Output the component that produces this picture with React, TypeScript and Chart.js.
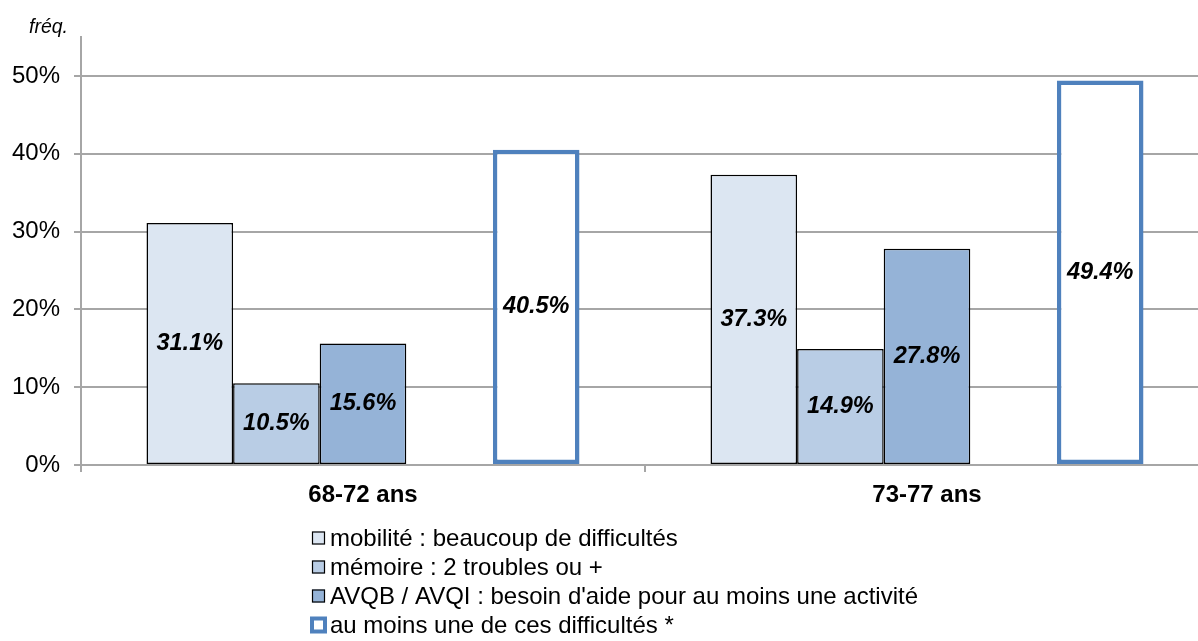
import React, { useEffect, useRef } from "react";
import { Chart, registerables } from "chart.js";

Chart.register(...registerables);

const CATEGORIES = ["68-72 ans", "73-77 ans"];
const MOBILITE = [31.1, 37.3];
const MEMOIRE = [10.5, 14.9];
const AVQ = [15.6, 27.8];
const AU_MOINS = [40.5, 49.4];
const Y_TICKS = [0, 10, 20, 30, 40, 50];
const LABELS = [
  "mobilité : beaucoup de difficultés",
  "mémoire : 2 troubles ou +",
  "AVQB / AVQI : besoin d'aide pour au moins une activité",
  "au moins une de ces difficultés *",
];
const Y_TITLE = "fréq.";

const FONT = '"Liberation Sans", Arial, sans-serif';
const GRID = "#a6a6a6";
const BLUE = "#4F81BD";

const W = 1230;
const H = 641;

export default function App() {
  const ref = useRef<HTMLCanvasElement>(null);

  useEffect(() => {
    const canvas = ref.current!;
    const labelPlugin = {
      id: "extras",
      afterDatasetsDraw(chart: any) {
        const ctx = chart.ctx;
        ctx.save();
        ctx.fillStyle = "#000";
        ctx.textAlign = "center";
        ctx.textBaseline = "middle";
        ctx.font = `italic bold 23.5px ${FONT}`;
        chart.data.datasets.forEach((ds: any, i: number) => {
          if (ds.isSpacer) return;
          const meta = chart.getDatasetMeta(i);
          meta.data.forEach((bar: any, j: number) => {
            const v = ds.data[j];
            if (v == null) return;
            ctx.fillText(v.toFixed(1) + "%", bar.x, (bar.y + bar.base) / 2);
          });
        });
        ctx.restore();
      },
      afterDraw(chart: any) {
        const ctx = chart.ctx;
        ctx.save();
        ctx.fillStyle = "#000";
        ctx.font = `italic 19.5px ${FONT}`;
        ctx.textAlign = "left";
        ctx.textBaseline = "middle";
        ctx.fillText(Y_TITLE, 29, 28);
        const items = chart.data.datasets.filter((d: any) => !d.isSpacer);
        const x0 = 312;
        const y0 = 538;
        const step = 29;
        ctx.font = `24px ${FONT}`;
        items.forEach((ds: any, k: number) => {
          const cy = y0 + k * step;
          const s = 13;
          if (ds.legendThick) {
            ctx.fillStyle = BLUE;
            ctx.fillRect(x0 - 2, cy - s / 2 - 2, s + 4, s + 4);
            ctx.fillStyle = "#fff";
            ctx.fillRect(x0 + 2, cy - s / 2 + 2, s - 4, s - 4);
          } else {
            ctx.fillStyle = ds.backgroundColor;
            ctx.fillRect(x0, cy - s / 2, s, s);
            ctx.strokeStyle = "#000";
            ctx.lineWidth = 1.2;
            ctx.strokeRect(x0 + 0.5, cy - s / 2 + 0.5, s - 1, s - 1);
          }
          ctx.fillStyle = "#000";
          ctx.textAlign = "left";
          ctx.textBaseline = "middle";
          ctx.fillText(ds.label, x0 + s + 5, cy + 1);
        });
        ctx.restore();
      },
    };

    const chart = new Chart(canvas, {
      type: "bar",
      data: {
        labels: CATEGORIES,
        datasets: [
          { label: LABELS[0], data: MOBILITE, backgroundColor: "#DCE6F2", borderColor: "#000", borderWidth: 1.5 },
          { label: LABELS[1], data: MEMOIRE, backgroundColor: "#B9CDE5", borderColor: "#000", borderWidth: 1.5 },
          { label: LABELS[2], data: AVQ, backgroundColor: "#95B3D7", borderColor: "#000", borderWidth: 1.5 },
          { label: "", data: [null, null], isSpacer: true, backgroundColor: "transparent" } as any,
          { label: LABELS[3], data: AU_MOINS, backgroundColor: "#ffffff", borderColor: BLUE, borderWidth: 4.5, legendThick: true } as any,
        ],
      },
      options: {
        responsive: false,
        animation: false,
        devicePixelRatio: 1,
        layout: { padding: { left: 0, top: 37, right: W - 1209, bottom: 0 } },
        datasets: {
          bar: { categoryPercentage: 433 / 564, barPercentage: 1, borderSkipped: false } as any,
        },
        plugins: {
          legend: { display: false },
          tooltip: { enabled: false },
          title: { display: false },
        },
        scales: {
          x: {
            grid: { offset: true, drawOnChartArea: false, drawTicks: true, tickLength: 7, color: GRID, lineWidth: 2 },
            border: { display: true, color: GRID, width: 2 },
            ticks: { color: "#000", font: { family: FONT, size: 24, weight: "bold" }, padding: 9, maxRotation: 0 },
            afterFit(scale: any) {
              scale.height = H - 465;
            },
          },
          y: {
            min: 0,
            max: 55,
            afterBuildTicks(scale: any) {
              scale.ticks = Y_TICKS.map((v) => ({ value: v }));
            },
            grid: { color: GRID, lineWidth: 2, tickLength: 7, drawTicks: true },
            border: { display: true, color: GRID, width: 2 },
            ticks: {
              color: "#000",
              font: { family: FONT, size: 24 },
              padding: 14,
              callback: (v: any) => v + "%",
            },
            afterFit(scale: any) {
              scale.width = 81;
            },
          },
        },
      },
      plugins: [labelPlugin],
    });
    return () => chart.destroy();
  }, []);

  return (
    <div style={{ position: "absolute", left: 0, top: 0, width: 1198, height: 641, overflow: "hidden", background: "#fff" }}>
      <canvas ref={ref} width={W} height={H} style={{ display: "block" }} />
    </div>
  );
}
